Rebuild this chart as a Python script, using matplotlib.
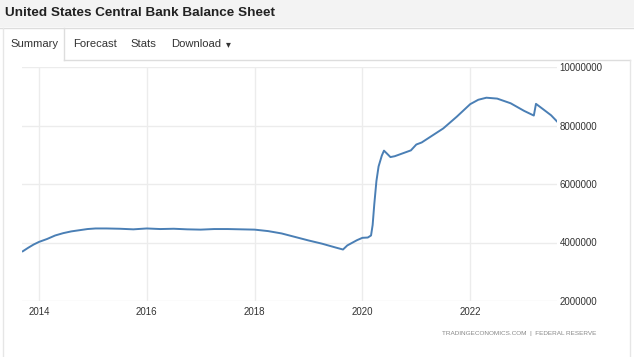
import matplotlib
matplotlib.use('Agg')
import matplotlib.pyplot as plt
from matplotlib.patches import Rectangle
from matplotlib.lines import Line2D

plt.rcParams['font.family'] = ['Liberation Sans', 'DejaVu Sans']

title = 'United States Central Bank Balance Sheet'
tabs = ['Summary', 'Forecast', 'Stats', 'Download']
source = 'TRADINGECONOMICS.COM  |  FEDERAL RESERVE'

# decimal years and balance sheet (USD million)
years = [2013.70, 2013.80, 2013.90, 2014.00, 2014.15, 2014.30, 2014.45, 2014.60,
         2014.75, 2014.90, 2015.05, 2015.25, 2015.50, 2015.75, 2016.00, 2016.25,
         2016.50, 2016.75, 2017.00, 2017.25, 2017.50, 2017.75, 2018.00, 2018.25,
         2018.50, 2018.75, 2019.00, 2019.25, 2019.50, 2019.64, 2019.72, 2019.80,
         2019.90, 2020.00, 2020.10, 2020.16, 2020.19, 2020.22, 2020.26, 2020.30,
         2020.36, 2020.40, 2020.45, 2020.52, 2020.60, 2020.75, 2020.90, 2021.00,
         2021.10, 2021.25, 2021.50, 2021.75, 2022.00, 2022.15, 2022.30, 2022.50,
         2022.75, 2023.00, 2023.18, 2023.22, 2023.35, 2023.50, 2023.62]
values = [3.70, 3.82, 3.93, 4.02, 4.12, 4.24, 4.32, 4.38,
          4.42, 4.46, 4.48, 4.48, 4.47, 4.45, 4.48, 4.46,
          4.47, 4.45, 4.44, 4.46, 4.46, 4.45, 4.44, 4.39,
          4.31, 4.19, 4.07, 3.96, 3.83, 3.76, 3.90, 3.98,
          4.08, 4.16, 4.17, 4.24, 4.60, 5.30, 6.10, 6.60,
          6.97, 7.14, 7.05, 6.92, 6.95, 7.05, 7.15, 7.35,
          7.42, 7.60, 7.90, 8.30, 8.73, 8.88, 8.95, 8.92,
          8.76, 8.50, 8.34, 8.74, 8.56, 8.35, 8.12]
values = [v * 1e6 for v in values]

xticks = [2014, 2016, 2018, 2020, 2022]
yticks = [2000000, 4000000, 6000000, 8000000, 10000000]

W, H = 634, 357
fig = plt.figure(figsize=(W / 100, H / 100), dpi=100)
fig.patch.set_facecolor('white')

# header overlay in pixel coordinates
bg = fig.add_axes([0, 0, 1, 1])
bg.set_xlim(0, W)
bg.set_ylim(H, 0)
bg.axis('off')
bg.add_patch(Rectangle((0, 0), W, 27, color='#f3f3f3', lw=0))
bg.add_line(Line2D([0, W], [27.5, 27.5], color='#dddddd', lw=1))
bg.add_line(Line2D([64, 630], [59.5, 59.5], color='#dddddd', lw=1))
bg.add_line(Line2D([3, 3], [28, H], color='#e6e6e6', lw=1))
bg.add_line(Line2D([64, 64], [28, 59.5], color='#dddddd', lw=1))
bg.add_line(Line2D([630, 630], [59.5, H], color='#e6e6e6', lw=1))
bg.text(5, 13.5, title, fontsize=9.7, fontweight='bold', color='#222222',
        va='center', ha='left')
for tx, lab in zip([10, 73, 130, 171], tabs):
    bg.text(tx, 44, lab, fontsize=8.1, color='#333333', va='center', ha='left')
bg.text(226, 44, '\u25BE', fontsize=7, color='#333333', va='center', ha='left')
bg.text(596, 334, source, fontsize=4.6, color='#888888', va='center', ha='right')

ax = fig.add_axes([22 / W, 1 - 301 / H, (557 - 22) / W, (301 - 67) / H])
ax.set_facecolor('none')
ax.plot(years, values, color='#4a7fb5', lw=1.4)
ax.set_xlim(2013.685, 2023.61)
ax.set_ylim(2000000, 10000000)
ax.set_xticks(xticks)
ax.set_xticklabels([str(t) for t in xticks], fontsize=7, color='#333333')
ax.set_yticks(yticks)
ax.set_yticklabels([str(t) for t in yticks], fontsize=7, color='#333333')
ax.yaxis.tick_right()
ax.tick_params(axis='y', length=0, pad=2)
ax.tick_params(axis='x', length=0, pad=4)
ax.grid(True, color='#ececec', lw=1)
for s in ax.spines.values():
    s.set_visible(False)
ax.set_axisbelow(True)

fig.savefig('out.png', dpi=100)
